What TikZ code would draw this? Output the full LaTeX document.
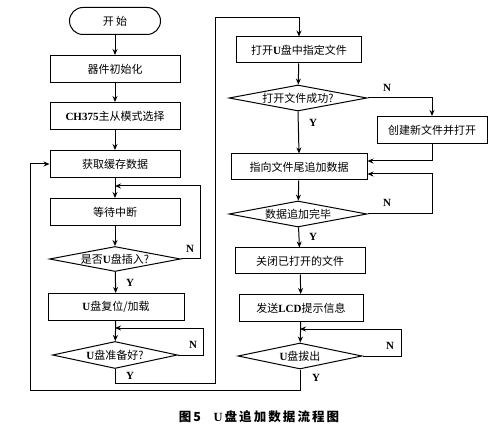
\documentclass[tikz,border=0pt]{standalone}
\usepackage{fontspec}
\setmainfont{Liberation Serif}
\newfontfamily\cjk{Noto Sans CJK SC}
\newcommand{\lat}[1]{{\rmfamily\bfseries #1}}
\usetikzlibrary{shapes.geometric,shapes.misc,arrows.meta,calc}
\begin{document}
\begin{tikzpicture}[x=1pt,y=-1pt,
  box/.style={draw, line width=1pt, rectangle, inner sep=0pt, minimum height=27pt, font=\cjk\fontsize{11}{13}\selectfont},
  term/.style={draw, line width=1pt, rounded rectangle, inner sep=0pt, minimum width=91pt, minimum height=27pt, font=\cjk\fontsize{11}{13}\selectfont},
  dia/.style={draw, line width=1pt, diamond, inner sep=0pt},
  diatxt/.style={font=\cjk\fontsize{11}{13}\selectfont, inner sep=0pt},
  arr/.style={-{Stealth[length=6pt,width=5pt]}, line width=1pt},
  ln/.style={line width=1pt},
  yn/.style={font=\rmfamily\fontsize{11}{13}\selectfont\bfseries, inner sep=0pt}]
\useasboundingbox (0,0) rectangle (504,433);
\fill[white] (0,0) rectangle (504,433);
% left column
\node[term] (st) at (115,21) {开 始};
\node[box, minimum width=130pt] (b1) at (115,69) {器件初始化};
\node[box, minimum width=130pt] (b2) at (115,116) {\lat{CH375}主从模式选择};
\node[box, minimum width=130pt] (b3) at (115,164) {获取缓存数据};
\node[box, minimum width=130pt] (b4) at (115,212) {等待中断};
\node[dia, minimum width=131pt, minimum height=25pt] (d1) at (115,259) {};
\node[diatxt] (t1) at (d1) {是否\lat{U}盘插入?};
\node[box, minimum width=136pt] (b5) at (116,307) {\lat{U}盘复位/加载};
\node[dia, minimum width=125pt, minimum height=27pt] (d2) at (115,355) {};
\node[diatxt] (t2) at (d2) {\lat{U}盘准备好?};
% right column
\node[box, minimum width=125pt, minimum height=26pt] (r1) at (299,50) {打开\lat{U}盘中指定文件};
\node[dia, minimum width=138pt, minimum height=26pt] (d3) at (298,98) {};
\node[diatxt] (t3) at (d3) {打开文件成功?};
\node[box, minimum width=110pt] (r2) at (432,130) {创建新文件并打开};
\node[box, minimum width=136pt, minimum height=26pt] (r3) at (299,167) {指向文件尾追加数据};
\node[dia, minimum width=138pt, minimum height=26pt] (d4) at (298,214) {};
\node[diatxt] (t4) at (d4) {数据追加完毕};
\node[box, minimum width=130pt, minimum height=26pt] (r4) at (300,261) {关闭已打开的文件};
\node[box, minimum width=124pt] (r5) at (301,308) {发送\lat{LCD}提示信息};
\node[dia, minimum width=124pt, minimum height=26pt] (d5) at (300,356) {};
\node[diatxt] (t5) at (d5) {\lat{U}盘拔出};
% coordinates
\coordinate (j1) at (115,186);
\coordinate (k1) at (200,259);
\coordinate (j2) at (115,328);
\coordinate (k2) at (203,355);
\coordinate (c1) at (215,383);
\coordinate (c2) at (215,18);
\coordinate (c3) at (299,18);
\coordinate (k4) at (432,214);
\coordinate (j5) at (300,329);
\coordinate (k5) at (401,356);
\coordinate (c4) at (30,390);
\coordinate (c5) at (30,164);
% left connectors
\draw[arr] (st) -- (b1);
\draw[arr] (b1) -- (b2);
\draw[arr] (b2) -- (b3);
\draw[arr] (b3) -- (b4);
\draw[arr] (b4) -- (d1);
\draw[arr] (d1) -- (b5);
\draw[arr] (b5) -- (d2);
\draw[arr] (d1.east) -- (k1) |- (j1);
\draw[arr] (d2.east) -- (k2) |- (j2);
\draw[arr] (d2.south) |- (c1) -- (c2) -- (c3) -- (r1.north);
% right connectors
\draw[arr] (r1) -- (d3);
\draw[arr] (d3.east) -| (r2.north);
\draw[arr] (d3.south) -- (r3.north);
\draw[arr] (r2.south) |- ([yshift=6pt]r3.east);
\draw[arr] (r3) -- (d4);
\draw[arr] (d4.east) -- (k4) |- ([yshift=-7pt]r3.east);
\draw[arr] (d4) -- (r4);
\draw[arr] (r4) -- (r5);
\draw[arr] (r5) -- (d5);
\draw[arr] (d5.east) -- (k5) |- (j5);
\draw[arr] (d5.south) |- (c4) -- (c5) -- (b3.west);
% labels
\node[yn] (n1) at (190,249) {N};
\node[yn] (y1) at (130,283) {Y};
\node[yn] (n2) at (193,345) {N};
\node[yn] (y2) at (130,376) {Y};
\node[yn] (n3) at (387,88) {N};
\node[yn] (y3) at (313,123) {Y};
\node[yn] (n4) at (387,203) {N};
\node[yn] (y4) at (313,237) {Y};
\node[yn] (n5) at (390,346) {N};
\node[yn] (y5) at (316,378) {Y};
\node[font=\cjk\bfseries\fontsize{12.5}{14}\selectfont, inner sep=0pt] (cap) at (259,417) {图\,5\quad \lat{U}\,盘\,追\,加\,数\,据\,流\,程\,图};
\end{tikzpicture}
\end{document}
